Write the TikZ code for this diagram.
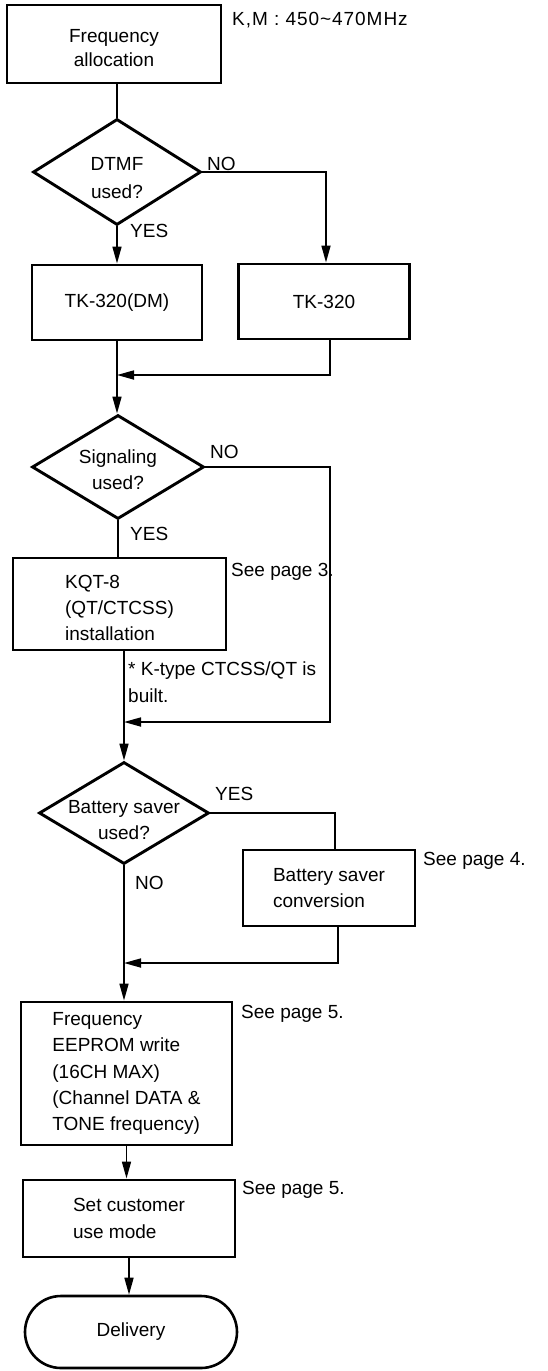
\documentclass[tikz,border=0pt]{standalone}
\usepackage{fontspec}
\setmainfont{Liberation Sans}
\usetikzlibrary{shapes.geometric,shapes.misc,arrows.meta}
\newcommand{\lowr}[1]{\raisebox{-4pt}[\height][\depth]{#1}}
\begin{document}
\begin{tikzpicture}[x=1pt,y=-1pt,
  every node/.style={font=\fontsize{19}{26.3}\selectfont, inner sep=0pt},
  procbox/.style={draw, line width=2.9pt, rectangle, align=left},
  decide/.style={draw, line width=2.9pt, diamond},
  term/.style={draw, line width=2.6pt, rounded rectangle},
  lbl/.style={anchor=base west},
  flow/.style={line width=1.7pt},
  arr/.style={flow, -{Triangle[length=17pt,width=9pt]}},
]
\useasboundingbox (0,0) rectangle (547,1371);

% nodes
\node[procbox, align=center, minimum width=214pt, minimum height=78pt,
      font=\fontsize{19}{23.5}\selectfont] (freq) at (114,44) {\lowr{Frequency}\\\lowr{allocation}};
\node[lbl, font=\fontsize{19}{26.3}\selectfont\addfontfeature{LetterSpace=5}] (km) at (232,25) {K,M : 450\textasciitilde 470MHz};

\node[decide, minimum width=168pt, minimum height=106pt] (dtmf) at (117,172) {};
\node[align=center, font=\fontsize{19}{28}\selectfont] (dtmft) at (117,178) {DTMF\\used?};
\node[lbl] (dtmfno) at (207,170) {NO};
\node[lbl] (dtmfyes) at (130,237) {YES};

\node[procbox, align=center, minimum width=170pt, minimum height=75pt] (tkdm) at (117,302.5) {TK-320(DM)};
\node[procbox, align=center, minimum width=171pt, minimum height=75pt] (tk) at (324,301.5) {TK-320};

\node[decide, minimum width=172pt, minimum height=104pt] (sig) at (118,467) {};
\node[align=center] (sigt) at (118,470) {Signaling\\used?};
\node[lbl] (signo) at (210,458) {NO};
\node[lbl] (sigyes) at (130,540) {YES};

\node[procbox, minimum width=213pt, minimum height=92pt] (kqt) at (119.5,604) {\lowr{KQT-8}\\\lowr{(QT/CTCSS)}\\\lowr{installation}};
\node[lbl] (see3) at (231,576) {See page 3.};
\node[anchor=north west, align=left] (note) at (128,662) {* K-type CTCSS/QT is\\built.};

\node[decide, minimum width=170pt, minimum height=102pt] (bat) at (124,813) {};
\node[align=center] (batt) at (124,820) {Battery saver\\used?};
\node[lbl] (batyes) at (215,800) {YES};
\node[lbl] (batno) at (135,889) {NO};

\node[procbox, minimum width=172pt, minimum height=76pt] (conv) at (329,888) {Battery saver\\conversion};
\node[lbl] (see4) at (423,865) {See page 4.};

\node[procbox, minimum width=211pt, minimum height=143pt] (eep) at (126.5,1073.5)
  {Frequency\\EEPROM write\\(16CH MAX)\\(Channel DATA \&\\TONE frequency)};
\node[lbl] (see5a) at (241,1018) {See page 5.};

\node[procbox, minimum width=212pt, minimum height=77pt] (set) at (129,1218.5) {Set customer\\use mode};
\node[lbl] (see5b) at (242,1194) {See page 5.};

\node[term, minimum width=212pt, minimum height=72pt] (deliv) at (131,1332) {Delivery};

% coordinates for merge points
\coordinate (m1) at (117,375);
\coordinate (r2) at (330,722);
\coordinate (m2) at (124,722);
\coordinate (m3) at (124,963);

% connectors
\draw[flow] (dtmf.north |- freq.south) -- (dtmf.north);
\draw[arr] (dtmf.south) -- (dtmf.south |- tkdm.north);
\draw[arr] (dtmf.east) -| ([xshift=2pt]tk.north);
\draw[arr] ([xshift=6pt]tk.south) |- (m1);
\draw[arr] (tkdm.south) -- (tkdm.south |- sig.north);
\draw[flow] (sig.south) -- (sig.south |- kqt.north);
\draw[arr] (sig.east) -| (r2) -- (m2);
\draw[arr] (bat.north |- kqt.south) -- (bat.north);
\draw[flow] (bat.east) -| ([xshift=6pt]conv.north);
\draw[arr] ([xshift=9pt]conv.south) |- (m3);
\draw[arr] (bat.south) -- (bat.south |- eep.north);
\draw[arr] (eep.south) -- (eep.south |- set.north);
\draw[arr] (set.south) -- (set.south |- deliv.north);
\end{tikzpicture}
\end{document}
